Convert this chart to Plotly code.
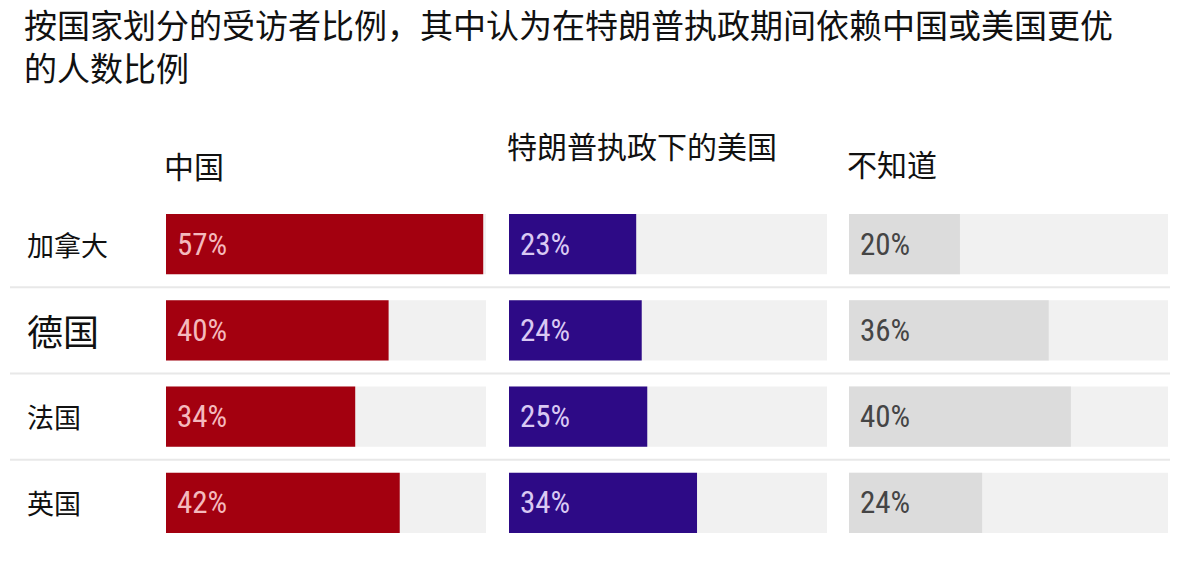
import plotly.graph_objects as go

W, H = 1200, 563

title_lines = ["按国家划分的受访者比例，其中认为在特朗普执政期间依赖中国或美国更优", "的人数比例"]
countries = ["加拿大", "德国", "法国", "英国"]
panel_titles = ["中国", "特朗普执政下的美国", "不知道"]
china = [57, 40, 34, 42]
usa_trump = [23, 24, 25, 34]
dont_know = [20, 36, 40, 24]
series = [china, usa_trump, dont_know]

TRACK = 57.5
bar_colors = ["#a3000f", "#2d0a86", "#dcdcdc"]
text_colors = ["#f4b9bd", "#d9c9f3", "#454545"]
track_color = "#f1f1f1"

# pixel layout
panel_px = [(166, 486), (509, 827), (849, 1168)]
header_y_px = [165, 145, 163]
y_top_px, y_bot_px = 201, 546

FONT = "Noto Sans CJK SC"
NUMFONT = "Liberation Sans Narrow, Roboto Condensed, Roboto, Noto Sans CJK SC"

fig = go.Figure()
axes = ["x", "x2", "x3"]
for i, vals in enumerate(series):
    fig.add_trace(go.Bar(
        x=[TRACK] * len(countries), y=countries, orientation="h",
        marker=dict(color=track_color, line=dict(width=0)),
        width=0.7, xaxis=axes[i], yaxis="y", hoverinfo="skip", showlegend=False))
    fig.add_trace(go.Bar(
        x=vals, y=countries, orientation="h",
        marker=dict(color=bar_colors[i], line=dict(width=0)),
        width=0.7, xaxis=axes[i], yaxis="y", hoverinfo="skip", showlegend=False))

layout = dict(
    width=W, height=H,
    margin=dict(l=0, r=0, t=0, b=0),
    paper_bgcolor="white", plot_bgcolor="white",
    barmode="overlay", showlegend=False,
    yaxis=dict(domain=[1 - y_bot_px / H, 1 - y_top_px / H],
               categoryorder="array", categoryarray=countries,
               range=[3.5, -0.5], showticklabels=False, showgrid=False,
               zeroline=False, showline=False, fixedrange=True),
)
for i, (a, b) in enumerate(panel_px):
    key = "xaxis" if i == 0 else f"xaxis{i+1}"
    layout[key] = dict(domain=[a / W, b / W], range=[0, TRACK], showticklabels=False,
                       showgrid=False, zeroline=False, showline=False,
                       anchor="y", fixedrange=True)
fig.update_layout(**layout)

annotations = []
# title (two lines)
annotations.append(dict(text="<br>".join(title_lines), xref="paper", yref="paper", x=22 / W,
                        y=1 + 2 / H, xanchor="left", yanchor="top", align="left",
                        showarrow=False, font=dict(family=FONT, size=33, color="#111111")))
# panel headers
for i, t in enumerate(panel_titles):
    annotations.append(dict(text=t, xref="x domain" if i == 0 else f"x{i+1} domain",
                            yref="paper", x=0, xshift=-4, y=1 - header_y_px[i] / H,
                            xanchor="left", yanchor="middle", showarrow=False,
                            font=dict(family=FONT, size=30, color="#111111")))
# country labels
for c in countries:
    annotations.append(dict(text=c, xref="paper", yref="y", x=25 / W, y=c,
                            xanchor="left", yanchor="middle", showarrow=False,
                            font=dict(family=FONT, size=36 if c == "德国" else 27,
                                      color="#111111")))
# value labels
for i, vals in enumerate(series):
    for c, v in zip(countries, vals):
        annotations.append(dict(text=f"{v}%", xref=axes[i], yref="y", x=0, y=c,
                                xshift=9, xanchor="left", yanchor="middle", showarrow=False,
                                font=dict(family=NUMFONT, size=31, color=text_colors[i])))
fig.update_layout(annotations=annotations)

# row separators
shapes = []
for k in range(len(countries) - 1):
    shapes.append(dict(type="line", xref="paper", yref="y", x0=10 / W, x1=1170 / W,
                       y0=k + 0.5, y1=k + 0.5, line=dict(color="#e8e8e8", width=2),
                       layer="below"))
fig.update_layout(shapes=shapes)

fig.write_html("out.html", config={"displayModeBar": False},
               post_script="document.body.style.margin='0';document.body.style.overflow='hidden';")
